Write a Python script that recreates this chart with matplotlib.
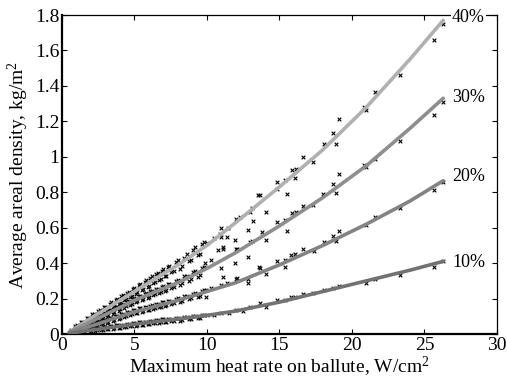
import matplotlib
matplotlib.use("Agg")
import matplotlib.pyplot as plt
from matplotlib.ticker import FuncFormatter

plt.rcParams['font.family'] = ['Liberation Serif', 'DejaVu Serif']
plt.rcParams['mathtext.fontset'] = 'custom'
plt.rcParams['mathtext.rm'] = 'Liberation Serif'
plt.rcParams['mathtext.it'] = 'Liberation Serif:italic'

# ---- fitted curves ----
curve_x = [0.5, 2, 5, 8, 10, 12, 15, 18, 21, 24, 26.3]
curve_40 = [0.01, 0.09, 0.24, 0.39, 0.50, 0.63, 0.83, 1.04, 1.28, 1.55, 1.77]
curve_30 = [0.01, 0.07, 0.19, 0.29, 0.37, 0.46, 0.61, 0.77, 0.95, 1.16, 1.33]
curve_20 = [0.008, 0.045, 0.125, 0.19, 0.24, 0.29, 0.39, 0.50, 0.62, 0.75, 0.865]
curve_10 = [0.004, 0.022, 0.055, 0.085, 0.105, 0.13, 0.18, 0.24, 0.30, 0.36, 0.41]

# ---- scatter data (dense low-heat-rate region) ----
dense_x = [0.6, 0.8, 1.0, 1.2, 1.4, 1.6, 1.8, 2.0, 2.2, 2.4, 2.6, 2.8, 3.0, 3.2, 3.4,
           3.6, 3.8, 4.0, 4.2, 4.4, 4.6, 4.8, 5.0, 5.2, 5.4, 5.6, 5.8, 6.0, 6.2, 6.4,
           6.6, 6.8, 7.0, 7.2, 7.4, 7.7, 8.0, 8.3, 8.6, 8.9, 9.2, 9.5, 9.8]
dense_40 = [.020, .018, .049, .038, .070, .058, .092, .078, .115, .097, .135, .118, .155, .137, .178,
            .158, .196, .175, .218, .196, .238, .214, .262, .236, .280, .252, .302, .272, .325, .292,
            .345, .312, .365, .330, .385, .355, .42, .385, .45, .42, .49, .45, .52]
dense_30 = [.018, .017, .038, .030, .054, .042, .071, .058, .087, .076, .104, .092, .121, .108, .137,
            .124, .154, .140, .170, .156, .186, .170, .202, .185, .216, .198, .230, .210, .244, .225,
            .256, .238, .270, .250, .285, .268, .305, .288, .330, .312, .355, .335, .38]
dense_20 = [.013, .012, .025, .020, .035, .027, .045, .036, .055, .047, .068, .058, .079, .068, .089,
            .080, .101, .088, .112, .101, .122, .112, .135, .120, .145, .128, .152, .137, .162, .146,
            .170, .155, .178, .163, .188, .174, .202, .188, .217, .202, .232, .216, .247]
dense_10 = [.008, .004, .015, .006, .020, .011, .026, .015, .030, .020, .036, .024, .040, .029, .044,
            .033, .049, .036, .053, .041, .058, .046, .062, .049, .066, .053, .070, .056, .074, .062,
            .078, .066, .082, .070, .086, .075, .092, .080, .098, .086, .104, .093, .110]

dense_x2 = [0.7, 0.9, 1.1, 1.3, 1.5, 1.7, 1.9, 2.1, 2.3, 2.5, 2.7, 2.9, 3.1, 3.3, 3.5, 3.7, 3.9,
            4.1, 4.3, 4.5, 4.7, 4.9, 5.1, 5.3, 5.5, 5.7, 5.9, 6.1, 6.3, 6.5, 6.7, 6.9, 7.1, 7.3,
            7.55, 7.85, 8.15, 8.45, 8.75, 9.05, 9.35, 9.65]
dense2_40 = [.012, .044, .030, .068, .050, .090, .072, .112, .092, .132, .110, .152, .130, .172,
             .150, .193, .168, .212, .190, .232, .208, .252, .228, .274, .248, .294, .268, .316,
             .288, .336, .306, .356, .328, .376, .350, .405, .365, .43, .41, .475, .445, .51]
dense2_30 = [.010, .036, .022, .052, .034, .068, .050, .086, .066, .102, .082, .118, .098, .134,
             .114, .150, .130, .166, .146, .182, .162, .198, .178, .212, .192, .226, .205, .240,
             .218, .253, .231, .266, .243, .280, .258, .300, .278, .325, .298, .350, .322, .375]
dense2_20 = [.008, .025, .015, .036, .022, .047, .033, .058, .043, .068, .054, .080, .062, .091,
             .074, .101, .085, .112, .095, .124, .105, .134, .116, .144, .124, .152, .133, .160,
             .141, .170, .150, .178, .159, .187, .168, .199, .181, .213, .195, .228, .208, .243]
dense2_10 = [.003, .013, .005, .020, .009, .025, .013, .031, .017, .036, .022, .040, .026, .044,
             .031, .049, .035, .053, .039, .058, .044, .062, .048, .066, .052, .070, .056, .074,
             .060, .078, .064, .082, .068, .086, .072, .091, .075, .097, .082, .101, .091, .110]

# ---- scatter data (sparse high-heat-rate region) ----
sparse_x40 = [9.98, 10.5, 10.9, 10.97, 11.0, 11.43, 11.98, 12.3, 12.85, 13.0, 13.08, 13.15, 13.54,
              13.66, 14.1, 14.85, 14.85, 15.38, 15.5, 15.84, 16.14, 16.07, 16.6, 17.3, 18.07, 18.67,
              18.9, 19.1, 20.8, 21.0, 21.6, 23.3, 25.66, 26.3]
sparse_y40 = [0.516, 0.54, 0.567, 0.60, 0.55, 0.60, 0.648, 0.66, 0.588, 0.687, 0.71, 0.635, 0.785,
              0.785, 0.69, 0.855, 0.817, 0.868, 0.79, 0.927, 0.93, 0.88, 0.998, 0.973, 1.073, 1.137,
              1.073, 1.213, 1.28, 1.266, 1.363, 1.463, 1.657, 1.75]

sparse_x30 = [9.86, 10.3, 10.74, 11.0, 11.1, 11.13, 11.36, 11.93, 11.98, 12.04, 11.93, 12.85, 13.0,
              13.08, 13.77, 14.1, 14.85, 15.38, 15.5, 15.84, 16.14, 16.6, 17.3, 18.0, 18.67, 18.9,
              19.1, 20.8, 21.0, 21.6, 23.3, 25.66, 26.3]
sparse_y30 = [0.40, 0.42, 0.475, 0.371, 0.48, 0.493, 0.546, 0.40, 0.48, 0.478, 0.531, 0.437, 0.52,
              0.527, 0.578, 0.531, 0.634, 0.644, 0.584, 0.685, 0.691, 0.72, 0.73, 0.79, 0.846, 0.798,
              0.902, 0.955, 0.945, 0.99, 1.087, 1.237, 1.307]

sparse_x20 = [9.9, 9.93, 10.3, 10.97, 11.13, 11.36, 12.0, 12.04, 12.85, 12.85, 13.6, 13.66, 14.1,
              14.85, 15.38, 15.38, 15.8, 16.07, 16.6, 17.4, 18.07, 18.67, 18.9, 19.1, 21.0, 21.6,
              23.3, 25.66, 26.3]
sparse_y20 = [0.249, 0.211, 0.258, 0.277, 0.324, 0.286, 0.31, 0.314, 0.309, 0.286, 0.377, 0.371, 0.337,
              0.414, 0.418, 0.38, 0.446, 0.452, 0.48, 0.469, 0.518, 0.554, 0.525, 0.584, 0.616, 0.66,
              0.71, 0.81, 0.855]

sparse_x10 = [10.0, 10.5, 11.0, 11.5, 12.0, 12.5, 13.0, 13.66, 14.1, 14.85, 15.38, 15.8, 16.07,
              16.6, 17.3, 18.07, 18.67, 19.1, 21.0, 21.6, 23.3, 25.66, 26.3]
sparse_y10 = [0.11, 0.107, 0.12, 0.118, 0.133, 0.13, 0.15, 0.173, 0.154, 0.192, 0.192, 0.207, 0.207,
              0.224, 0.23, 0.249, 0.258, 0.271, 0.29, 0.31, 0.333, 0.38, 0.41]

labels = ['40%', '30%', '20%', '10%']
label_y = [1.785, 1.333, 0.889, 0.403]

fig = plt.figure(figsize=(5.07, 3.79), dpi=100)
ax = fig.add_axes([0.1223, 0.1187, 0.8577, 0.8417])

scatter_sets = [(dense_x, dense_40), (dense_x, dense_30), (dense_x, dense_20), (dense_x, dense_10),
                (dense_x2, dense2_40), (dense_x2, dense2_30), (dense_x2, dense2_20), (dense_x2, dense2_10),
                (sparse_x40, sparse_y40), (sparse_x30, sparse_y30),
                (sparse_x20, sparse_y20), (sparse_x10, sparse_y10)]
for xs, ys in scatter_sets:
    ax.scatter(xs, ys, marker='x', s=7, c='black', linewidths=0.8, zorder=2)

line_colors = ['#b0b0b0', '#8e8e8e', '#838383', '#727272']
for cy, col in zip([curve_40, curve_30, curve_20, curve_10], line_colors):
    ax.plot(curve_x, cy, color=col, lw=2.6, solid_capstyle='round', zorder=3)

for lab, ly in zip(labels, label_y):
    ax.text(26.9, ly, lab, ha='left', va='center', fontsize=13, zorder=5,
            bbox=dict(facecolor='white', edgecolor='none', pad=0.5))

ax.set_xlim(0, 30)
ax.set_ylim(0, 1.8)
ax.set_xticks([0, 5, 10, 15, 20, 25, 30])
ax.set_yticks([0, 0.2, 0.4, 0.6, 0.8, 1.0, 1.2, 1.4, 1.6, 1.8])
ax.yaxis.set_major_formatter(FuncFormatter(lambda v, p: ('%g' % round(v, 2))))
ax.tick_params(direction='in', length=3.5, width=0.8, top=True, right=True,
               labelsize=14, pad=2)
ax.spines['left'].set_linewidth(1.6)
ax.spines['bottom'].set_linewidth(1.6)
ax.spines['top'].set_linewidth(0.9)
ax.spines['right'].set_linewidth(0.9)

ax.set_xlabel('Maximum heat rate on ballute, W/cm$^2$', fontsize=14, labelpad=1)
ax.set_ylabel('Average areal density, kg/m$^2$', fontsize=14, labelpad=3)

fig.savefig('out.png', dpi=100)
